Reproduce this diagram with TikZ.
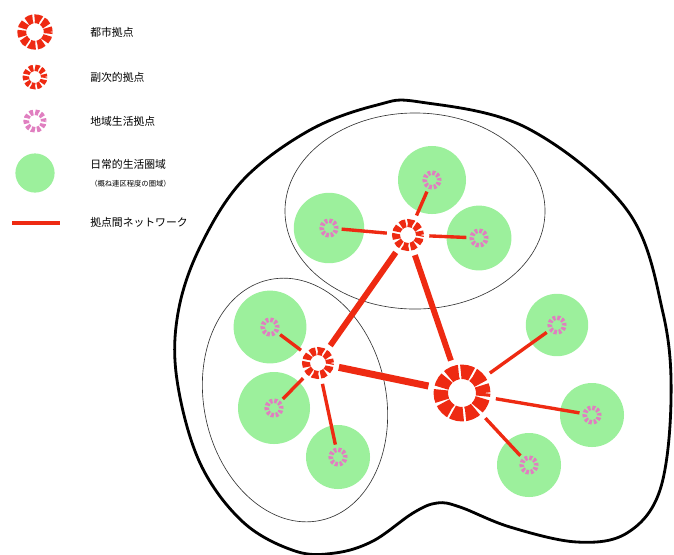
\documentclass[tikz,border=0pt]{standalone}
\usepackage{fontspec}
\setmainfont{Noto Sans CJK JP}
\usetikzlibrary{shapes.geometric}
\definecolor{hubred}{HTML}{EE2A12}
\definecolor{hubpink}{HTML}{E07FC0}
\definecolor{areagreen}{HTML}{9CF09C}
\tikzset{
  area/.style={circle, fill=areagreen, draw=none, inner sep=0pt, minimum size=#1},
  hubbig/.style={circle, inner sep=0pt, minimum size=1.7cm},
  hubsub/.style={circle, inner sep=0pt, minimum size=1.05cm},
  hublocal/.style={circle, inner sep=0pt, minimum size=0.62cm},
  zone/.style={ellipse, draw=black!80, line width=0.45pt, inner sep=0pt},
  outline/.style={draw=black, line width=2pt},
  netthick/.style={draw=hubred, line width=4.2pt},
  netthin/.style={draw=hubred, line width=2.4pt},
  keytext/.style={anchor=west, font=\fontsize{7.7pt}{9pt}\selectfont, inner sep=0pt},
  keynote/.style={anchor=west, font=\fontsize{5.2pt}{6pt}\selectfont, inner sep=0pt},
}
% ring cut into ten pieces: node, outer radius, inner radius, colour, gap (cm)
\newcommand{\segring}[5]{%
  \pgfmathsetmacro{\rmid}{(#2+#3)/2}%
  \pgfmathsetmacro{\rwid}{#2-#3}%
  \pgfmathsetmacro{\rseg}{2*pi*\rmid/10-#5}%
  \draw[#4, line width=\rwid cm, dash pattern=on \rseg cm off #5cm, dash phase=0.3*\rseg cm]
    (#1.center) circle[radius=\rmid cm];
}

\begin{document}
\begin{tikzpicture}[x=0.025cm, y=-0.025cm]
  \useasboundingbox (0,0) rectangle (674,554);

  % legend
  \node[hubsub] (keyCity) at (35,32) {};
  \node[hubsub] (keySub) at (35,77) {};
  \node[hubsub] (keyLocal) at (35,121) {};
  \node[area=0.98cm] (keyArea) at (35,173) {};
  \coordinate (keyLineA) at (12,223);
  \coordinate (keyLineB) at (60,223);
  \segring{keyCity}{0.44}{0.22}{hubred}{0.05}
  \segring{keySub}{0.31}{0.15}{hubred}{0.045}
  \segring{keyLocal}{0.29}{0.15}{hubpink}{0.05}
  \draw[hubred, line width=3.4pt] (keyLineA) -- (keyLineB);
  \node[keytext] (tCity) at (90,32) {都市拠点};
  \node[keytext] (tSub) at (90,77) {副次的拠点};
  \node[keytext] (tLocal) at (90,121) {地域生活拠点};
  \node[keytext] (tArea) at (90,164) {日常的生活圏域};
  \node[keynote] (tAreaNote) at (90,184) {（概ね連区程度の圏域）};
  \node[keytext] (tNet) at (90,222) {拠点間ネットワーク};

  % city boundary
  \draw[outline] plot[smooth cycle, tension=0.6] coordinates {
    (420,102) (527,128) (627,210) (663,313) (671,400) (660,490) (627,533)
    (577,542) (510,527) (460,507) (437,503) (413,513) (373,541) (335,553)
    (295,551) (243,522) (200,463) (177,380) (178,313) (200,247) (243,180)
    (310,130) (377,105)};

  \node[zone, minimum width=6.5cm, minimum height=4.9cm] (northZone) at (415,211) {};
  \node[zone, minimum width=4.55cm, minimum height=6.15cm, rotate=12] (westZone) at (295,400) {};

  % living areas
  \node[area=1.7cm] (aN1) at (432,180) {};
  \node[area=1.76cm] (aN2) at (329,228) {};
  \node[area=1.62cm] (aN3) at (479,238) {};
  \node[area=1.82cm] (aW1) at (270,327) {};
  \node[area=1.8cm] (aW2) at (274,408) {};
  \node[area=1.6cm] (aW3) at (338,457) {};
  \node[area=1.56cm] (aE1) at (557,325) {};
  \node[area=1.6cm] (aE2) at (592,415) {};
  \node[area=1.6cm] (aE3) at (529,465) {};

  \node[hublocal] (lN1) at (aN1) {};
  \node[hublocal] (lN2) at (aN2) {};
  \node[hublocal] (lN3) at (aN3) {};
  \node[hublocal] (lW1) at (aW1) {};
  \node[hublocal] (lW2) at (aW2) {};
  \node[hublocal] (lW3) at (aW3) {};
  \node[hublocal] (lE1) at (aE1) {};
  \node[hublocal] (lE2) at (aE2) {};
  \node[hublocal] (lE3) at (aE3) {};

  \node[hubbig] (city) at (462,393) {};
  \node[hubsub] (subN) at (408,235) {};
  \node[hubsub] (subW) at (318,363) {};

  % network
  \draw[netthick] (subN) -- (subW);
  \draw[netthick] (subN) -- (city);
  \draw[netthick, line width=5pt] (subW) -- (city);
  \foreach \l in {lN1, lN2, lN3} \draw[netthin] (subN) -- (\l);
  \foreach \l in {lW1, lW2, lW3} \draw[netthin] (subW) -- (\l);
  \foreach \l in {lE1, lE2, lE3} \draw[netthin] (city) -- (\l);

  \segring{city}{0.71}{0.35}{hubred}{0.055}
  \segring{subN}{0.4}{0.2}{hubred}{0.05}
  \segring{subW}{0.4}{0.2}{hubred}{0.05}
  \foreach \l in {lN1, lN2, lN3, lW1, lW2, lW3, lE1, lE2, lE3} {\segring{\l}{0.24}{0.125}{hubpink}{0.045}}
\end{tikzpicture}
\end{document}
